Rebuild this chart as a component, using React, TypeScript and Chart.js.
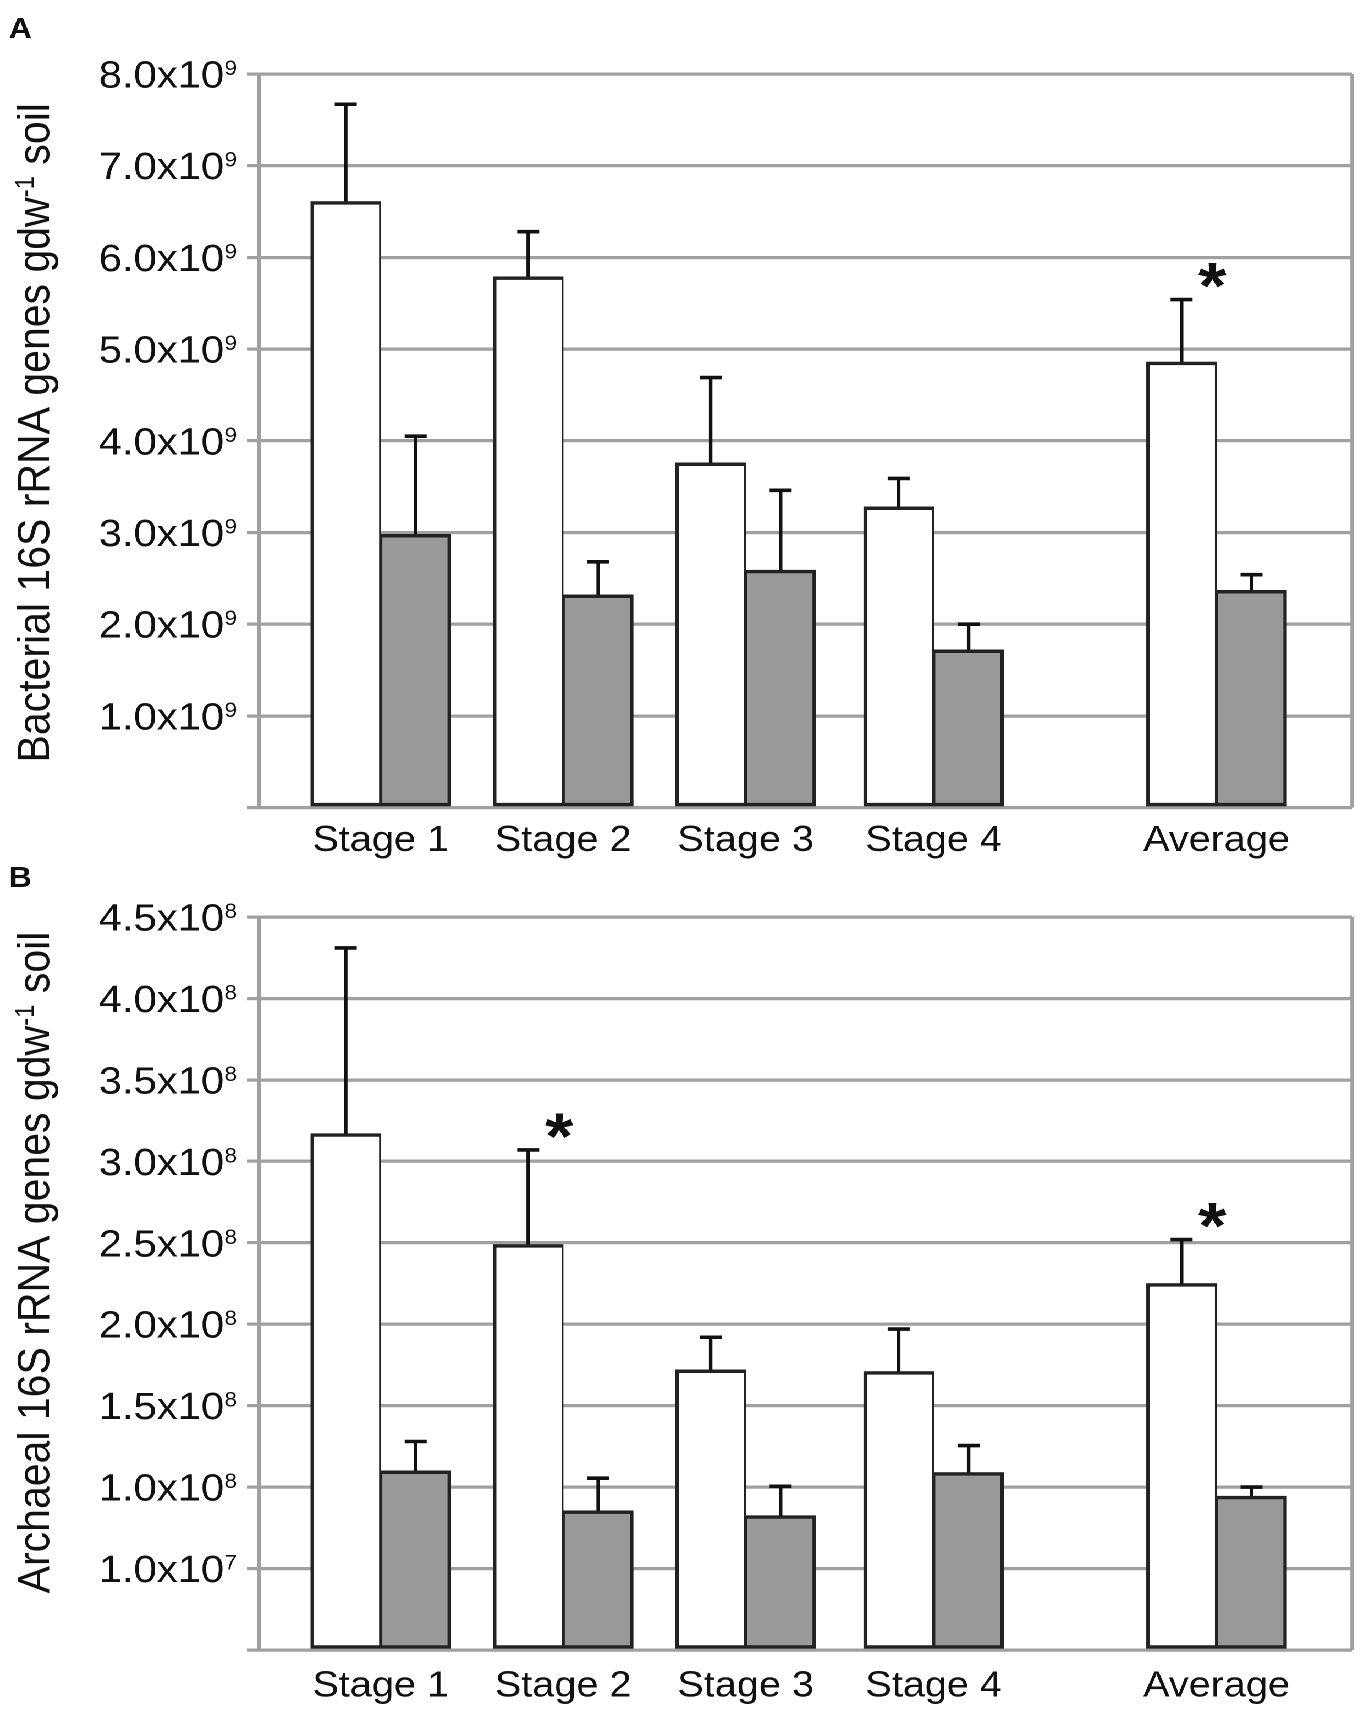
import React, { useEffect, useRef } from 'react';
import { Chart, registerables } from 'chart.js';

Chart.register(...registerables);

// the published figure is a little wider than Arial text would give, so the
// charts are drawn narrower and the whole page is stretched horizontally
const STRETCH = 1.1;
const PAGE_W = 1360;
const INNER_W = PAGE_W / STRETCH;

const GRID = '#a0a0a0';
const INK = '#111111';
const BAR_EDGE = '#222222';
const FONT = "'Liberation Sans', Arial, Helvetica, sans-serif";

const categories = ['Stage 1', 'Stage 2', 'Stage 3', 'Stage 4', 'Average'];
const categoryPos = [1, 1.99, 2.98, 4, 5.535];

// panel A - bacterial 16S rRNA genes
const bacWhite = [6.61e9, 5.79e9, 3.76e9, 3.28e9, 4.86e9];
const bacWhiteErr = [1.06e9, 0.49e9, 0.93e9, 0.31e9, 0.68e9];
const bacGrey = [2.98e9, 2.32e9, 2.59e9, 1.72e9, 2.37e9];
const bacGreyErr = [1.07e9, 0.36e9, 0.87e9, 0.28e9, 0.17e9];
const bacStars = [false, false, false, false, true];
const bacTickBase = ['1.0x10', '2.0x10', '3.0x10', '4.0x10', '5.0x10', '6.0x10', '7.0x10', '8.0x10'];
const bacTickExp = ['9', '9', '9', '9', '9', '9', '9', '9'];

// panel B - archaeal 16S rRNA genes
const arcWhite = [3.17e8, 2.49e8, 1.72e8, 1.71e8, 2.25e8];
const arcWhiteErr = [1.14e8, 0.58e8, 0.2e8, 0.26e8, 0.27e8];
const arcGrey = [1.1e8, 0.855e8, 0.825e8, 1.09e8, 0.945e8];
const arcGreyErr = [0.18e8, 0.2e8, 0.18e8, 0.165e8, 0.055e8];
const arcStars = [false, true, false, false, true];
const arcTickBase = ['1.0x10', '1.0x10', '1.5x10', '2.0x10', '2.5x10', '3.0x10', '3.5x10', '4.0x10', '4.5x10'];
const arcTickExp = ['7', '8', '8', '8', '8', '8', '8', '8', '8'];

type PanelProps = {
    letter: string;
    letterY: number;
    titleMain: string;
    titleSup: string;
    titleEnd: string;
    titleShift: number;
    white: number[];
    whiteErr: number[];
    grey: number[];
    greyErr: number[];
    stars: boolean[];
    yMax: number;
    yStep: number;
    tickBase: string[];
    tickExp: string[];
    height: number;
    padTop: number;
    xAxisHeight: number;
    labelPad: number;
};

const makeDecor = (p: PanelProps) => ({
    id: 'panelDecor',
    afterDatasetsDraw(chart: Chart) {
        const ctx = chart.ctx;
        const ys = chart.scales.y;
        const area = chart.chartArea;
        const errs = [p.whiteErr, p.greyErr];

        ctx.save();
        // right border of the plot area
        ctx.strokeStyle = GRID;
        ctx.lineWidth = 3;
        ctx.beginPath();
        ctx.moveTo(area.right, area.top);
        ctx.lineTo(area.right, area.bottom);
        ctx.stroke();

        // error bars (upper only) and significance stars
        ctx.strokeStyle = INK;
        ctx.fillStyle = INK;
        chart.data.datasets.forEach((ds: any, i: number) => {
            const meta = chart.getDatasetMeta(i);
            meta.data.forEach((bar: any, j: number) => {
                const v = ds.data[j].y + errs[i][j];
                const top = ys.getPixelForValue(v);
                ctx.lineWidth = 3.2;
                ctx.beginPath();
                ctx.moveTo(bar.x, bar.y);
                ctx.lineTo(bar.x, top);
                ctx.stroke();
                ctx.lineWidth = 3.6;
                ctx.beginPath();
                ctx.moveTo(bar.x - 10, top);
                ctx.lineTo(bar.x + 10, top);
                ctx.stroke();
                if (i === 0 && p.stars[j]) {
                    ctx.font = `bold 66px ${FONT}`;
                    ctx.textAlign = 'center';
                    ctx.textBaseline = 'alphabetic';
                    ctx.fillText('*', bar.x + 28, top - 28 + 0.56 * 66);
                }
            });
        });
        ctx.restore();
    },
    afterDraw(chart: Chart) {
        const ctx = chart.ctx;
        const ys = chart.scales.y;
        const area = chart.chartArea;

        ctx.save();
        ctx.fillStyle = INK;
        ctx.textAlign = 'left';
        ctx.textBaseline = 'alphabetic';

        // y tick labels with superscript exponent
        const right = area.left - 20;
        ys.ticks.forEach((t) => {
            const idx = Math.round(t.value / p.yStep) - 1;
            if (idx < 0 || idx >= p.tickBase.length) return;
            const py = ys.getPixelForValue(t.value);
            ctx.font = `38px ${FONT}`;
            const wb = ctx.measureText(p.tickBase[idx]).width;
            ctx.font = `21px ${FONT}`;
            const we = ctx.measureText(p.tickExp[idx]).width;
            ctx.font = `38px ${FONT}`;
            ctx.fillText(p.tickBase[idx], right - we - wb, py + 13.5);
            ctx.font = `21px ${FONT}`;
            ctx.fillText(p.tickExp[idx], right - we, py + 1);
        });

        // rotated y title
        ctx.save();
        ctx.translate(area.left - 191, (area.top + area.bottom) / 2 + p.titleShift);
        ctx.rotate(-Math.PI / 2);
        ctx.font = `41px ${FONT}`;
        const w1 = ctx.measureText(p.titleMain).width;
        const w3 = ctx.measureText(p.titleEnd).width;
        ctx.font = `24px ${FONT}`;
        const w2 = ctx.measureText(p.titleSup).width;
        const x0 = -(w1 + w2 + w3) / 2;
        ctx.font = `41px ${FONT}`;
        ctx.fillText(p.titleMain, x0, 0);
        ctx.fillText(p.titleEnd, x0 + w1 + w2, 0);
        ctx.font = `24px ${FONT}`;
        ctx.fillText(p.titleSup, x0 + w1, -14);
        ctx.restore();

        // panel letter
        ctx.font = `bold 29px ${FONT}`;
        ctx.fillText(p.letter, 8, p.letterY);
        ctx.restore();
    },
});

function Panel(p: PanelProps) {
    const canvasRef = useRef<HTMLCanvasElement | null>(null);

    useEffect(() => {
        if (!canvasRef.current) return;

        const chart = new Chart(canvasRef.current, {
            type: 'bar',
            data: {
                datasets: [
                    {
                        data: p.white.map((v, i) => ({ x: categoryPos[i], y: v })),
                        backgroundColor: '#ffffff',
                        borderColor: BAR_EDGE,
                        borderWidth: { top: 3.5, left: 3.2, right: 1.8, bottom: 3.5 },
                        borderSkipped: false,
                        barThickness: 63.6,
                    },
                    {
                        data: p.grey.map((v, i) => ({ x: categoryPos[i], y: v })),
                        backgroundColor: '#999999',
                        borderColor: BAR_EDGE,
                        borderWidth: { top: 3.5, left: 1.8, right: 3.2, bottom: 3.5 },
                        borderSkipped: false,
                        barThickness: 63.6,
                    },
                ],
            },
            options: {
                animation: false,
                responsive: true,
                maintainAspectRatio: false,
                devicePixelRatio: 2,
                events: [],
                layout: { padding: { top: p.padTop, right: 7.3, left: 0, bottom: 0 } },
                plugins: {
                    legend: { display: false },
                    tooltip: { enabled: false },
                },
                scales: {
                    x: {
                        type: 'linear',
                        min: 0.34,
                        max: 6.27,
                        offset: false,
                        bounds: 'data',
                        grid: { display: false, drawTicks: false, offset: false },
                        border: { display: true, color: GRID, width: 3 },
                        afterBuildTicks: (s: any) => {
                            s.ticks = categoryPos.map((v) => ({ value: v }));
                        },
                        afterFit: (s: any) => {
                            s.height = p.xAxisHeight;
                        },
                        ticks: {
                            autoSkip: false,
                            maxRotation: 0,
                            padding: p.labelPad,
                            color: INK,
                            font: { family: FONT, size: 36 },
                            callback: (v: any) => categories[categoryPos.indexOf(Number(v))] ?? '',
                        },
                    },
                    y: {
                        min: 0,
                        max: p.yMax,
                        ticks: { stepSize: p.yStep, display: false },
                        grid: {
                            color: GRID,
                            lineWidth: 3.2,
                            drawTicks: true,
                            tickLength: 11,
                            tickColor: GRID,
                            tickWidth: 3.2,
                        },
                        border: { display: true, color: GRID, width: 3 },
                        afterFit: (s: any) => {
                            s.width = 235.5;
                        },
                    },
                },
            } as any,
            plugins: [makeDecor(p)],
        });

        return () => {
            chart.destroy();
        };
    }, []);

    return (
        <div style={{ position: 'relative', width: INNER_W, height: p.height }}>
            <canvas ref={canvasRef}></canvas>
        </div>
    );
}

export default function App() {
    return (
        <div
            style={{
                position: 'absolute',
                left: 0,
                top: 0,
                width: INNER_W,
                background: '#ffffff',
                transform: `scaleX(${STRETCH})`,
                transformOrigin: '0 0',
            }}
        >
            <Panel
                letter="A"
                letterY={38}
                titleMain="Bacterial 16S rRNA genes gdw"
                titleSup="-1"
                titleEnd=" soil"
                titleShift={-8}
                white={bacWhite}
                whiteErr={bacWhiteErr}
                grey={bacGrey}
                greyErr={bacGreyErr}
                stars={bacStars}
                yMax={8e9}
                yStep={1e9}
                tickBase={bacTickBase}
                tickExp={bacTickExp}
                height={862}
                padTop={74}
                xAxisHeight={54.4}
                labelPad={12}
            />
            <Panel
                letter="B"
                letterY={25}
                titleMain="Archaeal 16S rRNA genes gdw"
                titleSup="-1"
                titleEnd=" soil"
                titleShift={-21}
                white={arcWhite}
                whiteErr={arcWhiteErr}
                grey={arcGrey}
                greyErr={arcGreyErr}
                stars={arcStars}
                yMax={4.5e8}
                yStep={0.5e8}
                tickBase={arcTickBase}
                tickExp={arcTickExp}
                height={852}
                padTop={55}
                xAxisHeight={64}
                labelPad={15}
            />
        </div>
    );
}
